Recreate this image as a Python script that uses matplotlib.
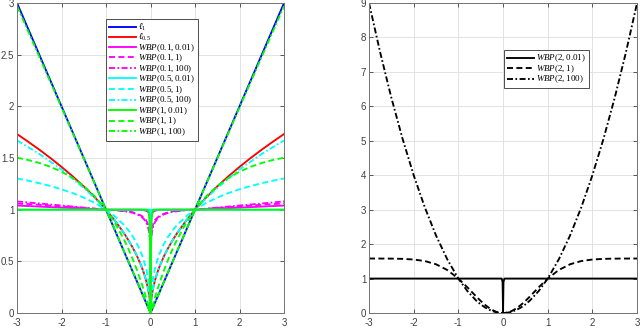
import numpy as np
import matplotlib
matplotlib.use("Agg")
import matplotlib.pyplot as plt

plt.rcParams["mathtext.fontset"] = "custom"
plt.rcParams["mathtext.rm"] = "Liberation Serif"
plt.rcParams["mathtext.it"] = "Liberation Serif:italic"
plt.rcParams["mathtext.bf"] = "Liberation Serif:bold"
plt.rcParams["font.family"] = ["Liberation Sans", "DejaVu Sans"]
plt.rcParams["axes.unicode_minus"] = False

# sample positions (x >= 0); curves are symmetric about x = 0
x_half = [0, 0.003, 0.01, 0.03, 0.06, 0.1, 0.15, 0.2, 0.3, 0.4, 0.5, 0.6,
          0.8, 1.0, 1.25, 1.5, 1.75, 2.0, 2.25, 2.5, 2.75, 3.0]

# left panel values
l1 = [0, 0.003, 0.01, 0.03, 0.06, 0.1, 0.15, 0.2, 0.3, 0.4, 0.5, 0.6,
      0.8, 1.0, 1.25, 1.5, 1.75, 2.0, 2.25, 2.5, 2.75, 3.0]
l05 = [0, 0.055, 0.1, 0.173, 0.245, 0.316, 0.387, 0.447, 0.548, 0.632, 0.707, 0.775,
       0.894, 1.0, 1.118, 1.225, 1.323, 1.414, 1.5, 1.581, 1.658, 1.732]
wbp_01_001 = [0, 0.8, 0.9, 0.96, 0.98, 0.99, 0.995, 1.0, 1.0, 1.0, 1.0, 1.0,
              1.0, 1.0, 1.005, 1.01, 1.015, 1.02, 1.025, 1.03, 1.035, 1.04]
wbp_01_1 = [0, 0.66, 0.74, 0.81, 0.86, 0.9, 0.92, 0.94, 0.96, 0.975, 0.985, 0.99,
            0.997, 1.0, 1.008, 1.016, 1.024, 1.032, 1.04, 1.047, 1.054, 1.06]
wbp_01_100 = [0, 0.62, 0.70, 0.78, 0.84, 0.88, 0.91, 0.93, 0.955, 0.97, 0.98, 0.985,
              0.995, 1.0, 1.01, 1.02, 1.03, 1.04, 1.05, 1.06, 1.07, 1.08]
wbp_05_001 = [0, 0.99, 1.0, 1.0, 1.0, 1.0, 1.0, 1.0, 1.0, 1.0, 1.0, 1.0,
              1.0, 1.0, 1.0, 1.0, 1.0, 1.0, 1.0, 1.0, 1.0, 1.0]
wbp_05_1 = [0, 0.084, 0.151, 0.252, 0.344, 0.429, 0.508, 0.571, 0.667, 0.742, 0.802, 0.853,
            0.935, 1.0, 1.065, 1.117, 1.161, 1.197, 1.229, 1.256, 1.281, 1.302]
wbp_05_100 = [0, 0.055, 0.1, 0.174, 0.246, 0.317, 0.388, 0.448, 0.549, 0.634, 0.708, 0.776,
              0.895, 1.0, 1.11, 1.21, 1.30, 1.39, 1.465, 1.54, 1.605, 1.67]
wbp_1_001 = [0, 0.259, 0.632, 0.95, 0.998, 1.0, 1.0, 1.0, 1.0, 1.0, 1.0, 1.0,
             1.0, 1.0, 1.0, 1.0, 1.0, 1.0, 1.0, 1.0, 1.0, 1.0]
wbp_1_1 = [0, 0.005, 0.016, 0.047, 0.092, 0.151, 0.220, 0.287, 0.410, 0.522, 0.623, 0.714,
           0.871, 1.0, 1.129, 1.229, 1.307, 1.368, 1.415, 1.452, 1.481, 1.503]
wbp_1_100 = [0, 0.003, 0.01, 0.03, 0.06, 0.1, 0.151, 0.201, 0.301, 0.401, 0.501, 0.601,
             0.801, 1.0, 1.249, 1.496, 1.743, 1.99, 2.236, 2.481, 2.726, 2.97]

# right panel values
wbp_2_001 = [0, 0.3, 0.9, 1.0, 1.0, 1.0, 1.0, 1.0, 1.0, 1.0, 1.0, 1.0,
             1.0, 1.0, 1.0, 1.0, 1.0, 1.0, 1.0, 1.0, 1.0, 1.0]
wbp_2_1 = [0, 0.0, 0.0002, 0.0014, 0.0057, 0.016, 0.035, 0.062, 0.136, 0.234, 0.350, 0.478,
           0.748, 1.0, 1.250, 1.415, 1.508, 1.553, 1.572, 1.579, 1.581, 1.582]
wbp_2_100 = [0, 0.0, 0.0001, 0.0009, 0.0036, 0.01, 0.0225, 0.04, 0.09, 0.16, 0.25, 0.36,
             0.64, 1.0, 1.5625, 2.25, 3.0625, 4.0, 5.0625, 6.25, 7.5625, 9.0]


def mirror(vals):
    v = np.asarray(vals, dtype=float)
    return np.concatenate([v[:0:-1], v])


x_full = np.concatenate([-np.asarray(x_half[:0:-1]), np.asarray(x_half)])

MAGENTA = "#ff00ff"
CYAN = "#00ffff"
GREEN = "#00ff00"
DASH = (0, (3.2, 1.8))
DASHDOT = (0, (3.2, 1.3, 0.9, 1.3))
LW = 1.35

left_series = [
    (l1, "#0000ff", "-", r"$\ell_1$"),
    (l05, "#ff0000", "-", r"$\ell_{0.5}$"),
    (wbp_01_001, MAGENTA, "-", r"$WBP(0.1,0.01)$"),
    (wbp_01_1, MAGENTA, DASH, r"$WBP(0.1,1)$"),
    (wbp_01_100, MAGENTA, DASHDOT, r"$WBP(0.1,100)$"),
    (wbp_05_001, CYAN, "-", r"$WBP(0.5,0.01)$"),
    (wbp_05_1, CYAN, DASH, r"$WBP(0.5,1)$"),
    (wbp_05_100, CYAN, DASHDOT, r"$WBP(0.5,100)$"),
    (wbp_1_001, GREEN, "-", r"$WBP(1,0.01)$"),
    (wbp_1_1, GREEN, DASH, r"$WBP(1,1)$"),
    (wbp_1_100, GREEN, DASHDOT, r"$WBP(1,100)$"),
]
right_series = [
    (wbp_2_001, "k", "-", r"$WBP(2,0.01)$"),
    (wbp_2_1, "k", DASH, r"$WBP(2,1)$"),
    (wbp_2_100, "k", DASHDOT, r"$WBP(2,100)$"),
]


def style_axes(ax, ymax, ystep):
    ax.set_xlim(-3, 3)
    ax.set_ylim(0, ymax)
    ax.set_xticks(np.arange(-3, 4, 1))
    yt = np.arange(0, ymax + 0.01, ystep)
    ax.set_yticks(yt)
    ax.set_yticklabels([f"{v:g}" for v in yt])
    ax.grid(True, color="0.87", linewidth=0.6)
    ax.set_axisbelow(True)
    ax.tick_params(direction="in", length=3, width=0.6, labelsize=7,
                   colors="0.25", top=True, right=True)
    ax.tick_params(axis="x", pad=3.5)
    ax.tick_params(axis="y", pad=2)
    for sp in ax.spines.values():
        sp.set_color("0.45")
        sp.set_linewidth(0.7)


fig = plt.figure(figsize=(6.4, 3.28), dpi=100)
ax1 = fig.add_axes([0.0266, 0.0457, 0.4172, 0.9451])
ax2 = fig.add_axes([0.5766, 0.0457, 0.4188, 0.9451])

for vals, c, ls, lab in left_series:
    ax1.plot(x_full, mirror(vals), color=c, linestyle=ls, linewidth=LW, label=lab)
for vals, c, ls, lab in right_series:
    ax2.plot(x_full, mirror(vals), color=c, linestyle=ls, linewidth=LW, label=lab)

style_axes(ax1, 3, 0.5)
style_axes(ax2, 9, 1)

leg_kw = dict(fontsize=6.5, handlelength=3.0, handletextpad=0.3, borderpad=0.3,
              labelspacing=-0.12, handleheight=0.5, fancybox=False, framealpha=1,
              borderaxespad=0)
leg1 = ax1.legend(loc="upper left", bbox_to_anchor=(106 / 640, 1 - 19 / 328),
                  bbox_transform=fig.transFigure, **leg_kw)
leg2 = ax2.legend(loc="upper left", bbox_to_anchor=(504 / 640, 1 - 50 / 328),
                  bbox_transform=fig.transFigure, **leg_kw)
for leg in (leg1, leg2):
    leg.get_frame().set_edgecolor("0.3")
    leg.get_frame().set_linewidth(0.7)

fig.savefig("out.png", dpi=100)
